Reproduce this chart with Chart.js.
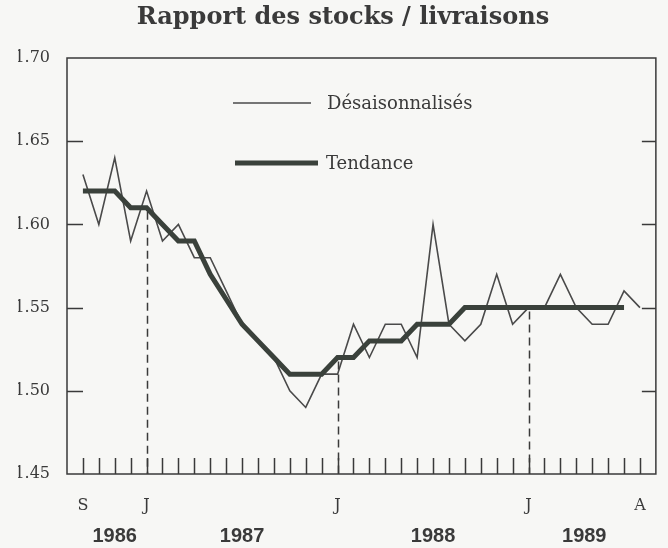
<!DOCTYPE html>
<html>
<head>
<meta charset="utf-8">
<script src="https://cdn.jsdelivr.net/npm/chart.js@4.4.0/dist/chart.umd.min.js"></script>
<style>
  html, body { margin: 0; padding: 0; background: #f7f7f5; }
  canvas { display: block; }
</style>
</head>
<body>
<canvas id="chart" width="668" height="548"></canvas>
<script>
// Monthly ratio of stocks to deliveries, September 1986 to August 1989
const months = ['S','O','N','D',
  'J','F','M','A','M','J','J','A','S','O','N','D',
  'J','F','M','A','M','J','J','A','S','O','N','D',
  'J','F','M','A','M','J','J','A'];
const labelledMonths = [0, 4, 16, 28, 35];
const januaries = [4, 16, 28];
const years = ['1986', '1987', '1988', '1989'];
const yearStarts = [0, 4, 16, 28];

const seasonallyAdjusted = [1.63, 1.60, 1.64, 1.59, 1.62, 1.59, 1.60, 1.58, 1.58, 1.56,
  1.54, 1.53, 1.52, 1.50, 1.49, 1.51, 1.51, 1.54, 1.52, 1.54,
  1.54, 1.52, 1.60, 1.54, 1.53, 1.54, 1.57, 1.54, 1.55, 1.55,
  1.57, 1.55, 1.54, 1.54, 1.56, 1.55];
const trend = [1.62, 1.62, 1.62, 1.61, 1.61, 1.60, 1.59, 1.59, 1.57, 1.555,
  1.54, 1.53, 1.52, 1.51, 1.51, 1.51, 1.52, 1.52, 1.53, 1.53,
  1.53, 1.54, 1.54, 1.54, 1.55, 1.55, 1.55, 1.55, 1.55, 1.55,
  1.55, 1.55, 1.55, 1.55, 1.55];

const yMin = 1.45, yMax = 1.70, yStep = 0.05;

const lastMonth = months.length - 1;
const yearCentres = yearStarts.map((s, k) =>
  (s + (k + 1 < yearStarts.length ? yearStarts[k + 1] : lastMonth)) / 2);

const ink = '#3a3a3a';
const serif = 'DejaVu Serif';

const toPoints = arr => arr.map((v, i) => ({ x: i, y: v }));

// Frame, inward tick marks, January guides and the in-plot key
const decorations = {
  id: 'decorations',
  beforeDraw(chart) {
    const c = chart.ctx;
    c.save();
    c.fillStyle = '#f7f7f5';
    c.fillRect(0, 0, chart.width, chart.height);
    c.restore();
  },
  afterDatasetsDraw(chart) {
    const c = chart.ctx;
    const a = chart.chartArea;
    const xs = chart.scales.x, ys = chart.scales.y;
    c.save();
    c.strokeStyle = ink;
    c.lineWidth = 1.5;
    c.strokeRect(a.left, a.top, a.right - a.left, a.bottom - a.top);

    // month ticks rising from the bottom edge
    c.beginPath();
    months.forEach((m, i) => {
      const px = Math.round(xs.getPixelForValue(i)) + 0.5;
      c.moveTo(px, a.bottom);
      c.lineTo(px, a.bottom - 16);
    });
    // value ticks on both sides
    for (let v = yMin + yStep; v < yMax - yStep / 2; v += yStep) {
      const py = Math.round(ys.getPixelForValue(v)) + 0.5;
      c.moveTo(a.left, py); c.lineTo(a.left + 16, py);
      c.moveTo(a.right, py); c.lineTo(a.right - 14, py);
    }
    c.stroke();

    // dashed guides under each January
    c.setLineDash([8, 5]);
    c.lineWidth = 1.5;
    c.beginPath();
    januaries.forEach(i => {
      const px = Math.round(xs.getPixelForValue(i)) + 0.5;
      c.moveTo(px, ys.getPixelForValue(trend[i]) + 4);
      c.lineTo(px, a.bottom);
    });
    c.stroke();
    c.setLineDash([]);

    // key
    const ds = chart.data.datasets;
    const key = [
      { x0: 233, x1: 311, y: 103, tx: 327 },
      { x0: 235, x1: 318, y: 163, tx: 326 }
    ];
    c.font = '18px "' + serif + '"';
    c.textBaseline = 'middle';
    c.textAlign = 'left';
    key.forEach((k, j) => {
      c.strokeStyle = ds[j].borderColor;
      c.lineWidth = ds[j].borderWidth;
      c.beginPath();
      c.moveTo(k.x0, k.y); c.lineTo(k.x1, k.y);
      c.stroke();
      c.fillStyle = ink;
      c.fillText(ds[j].label, k.tx, k.y + 1);
    });
    c.restore();
  }
};

new Chart(document.getElementById('chart'), {
  type: 'line',
  data: {
    datasets: [
      {
        label: 'Désaisonnalisés',
        data: toPoints(seasonallyAdjusted),
        borderColor: '#4a4a4a',
        borderWidth: 1.6,
        pointRadius: 0,
        tension: 0,
        order: 2
      },
      {
        label: 'Tendance',
        data: toPoints(trend),
        borderColor: '#3a413b',
        borderWidth: 5,
        pointRadius: 0,
        tension: 0,
        order: 1
      }
    ]
  },
  options: {
    responsive: false,
    animation: false,
    events: [],
    layout: { padding: { left: 18, right: 0, top: 0, bottom: 0 } },
    plugins: {
      legend: { display: false },
      tooltip: { enabled: false },
      title: {
        display: true,
        text: 'Rapport des stocks / livraisons',
        color: ink,
        font: { family: serif, size: 24, weight: 'bold' },
        padding: { top: 3, bottom: 26.2 }
      }
    },
    scales: {
      x: {
        type: 'linear',
        min: -1,
        max: months.length,
        afterBuildTicks: s => { s.ticks = months.map((m, i) => ({ value: i })); },
        afterFit: s => { s.height = 42; },
        grid: { display: false, drawTicks: false },
        border: { display: false },
        ticks: {
          autoSkip: false,
          maxRotation: 0,
          padding: 22,
          color: ink,
          font: { family: serif, size: 16 },
          callback: v => labelledMonths.includes(v) ? months[v] : ''
        }
      },
      x2: {
        type: 'linear',
        position: 'bottom',
        min: -1,
        max: months.length,
        afterBuildTicks: s => { s.ticks = yearCentres.map(v => ({ value: v })); },
        afterFit: s => { s.height = 32; },
        grid: { display: false, drawTicks: false },
        border: { display: false },
        ticks: {
          autoSkip: false,
          maxRotation: 0,
          padding: 8,
          color: ink,
          font: { family: 'Liberation Sans', size: 20, weight: 'bold' },
          callback: (v, idx) => years[idx]
        }
      },
      y: {
        min: yMin,
        max: yMax,
        afterFit: s => { s.width = 49; },
        grid: { display: false, drawTicks: false },
        border: { display: false },
        ticks: {
          stepSize: yStep,
          padding: 17,
          color: ink,
          font: { family: serif, size: 16 },
          callback: v => v.toFixed(2)
        }
      },
      yRight: {
        position: 'right',
        min: yMin,
        max: yMax,
        afterFit: s => { s.width = 10; },
        grid: { display: false, drawTicks: false },
        border: { display: false },
        ticks: { display: false }
      }
    }
  },
  plugins: [decorations]
});
</script>
</body>
</html>
